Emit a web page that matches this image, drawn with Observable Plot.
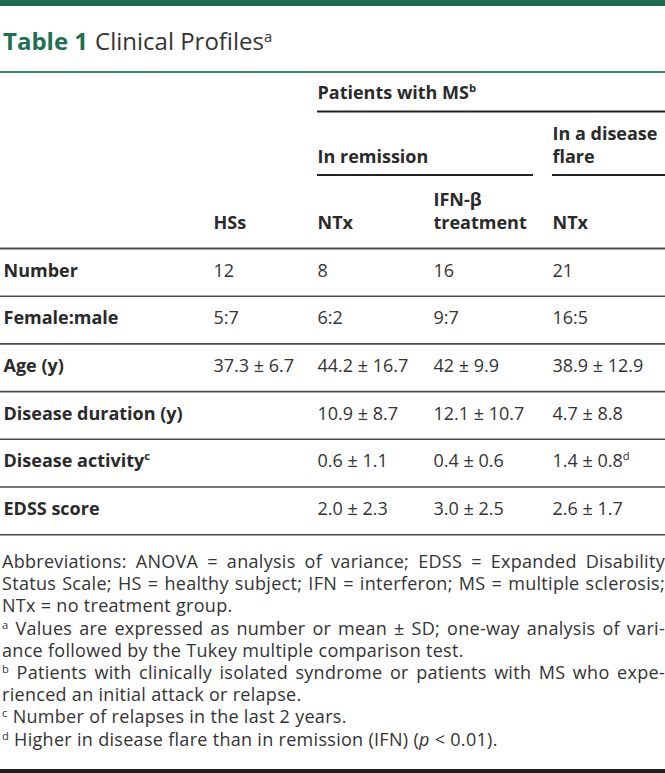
<!DOCTYPE html>
<html>
<head>
<meta charset="utf-8">
<script src="https://cdn.jsdelivr.net/npm/d3@7"></script>
<script src="https://cdn.jsdelivr.net/npm/@observablehq/plot@0.6"></script>
<style>
  html, body { margin: 0; padding: 0; background: #fff; }
  #wrap { position: relative; width: 665px; height: 773px; overflow: hidden; font-family: 'Open Sans', sans-serif; }
  #topbar { position: absolute; top: 0; left: 0; width: 665px; height: 6px; background: #1c6b4e; }
  #title { position: absolute; top: 29px; left: 3px; font-size: 24px; line-height: 24px; white-space: nowrap; color: #333; }
  #title .lab { font-weight: 700; color: #1f7050; margin-right: 7px; }
  #title sup, #notes sup { font-size: 0.62em; line-height: 0; vertical-align: 0.55em; }
  #chart { position: absolute; top: 60px; left: 0; }
  #notes { position: absolute; top: 550px; left: 2px; width: 663px; font-size: 18px; letter-spacing: 0.3px; line-height: 22.2px; color: #333; }
  #notes .ln { height: 22.2px; }
  #notes .j { text-align: justify; text-align-last: justify; }
  #bottombar { position: absolute; top: 769px; left: 0; width: 665px; height: 4px; background: #1e1e1e; }
</style>
</head>
<body>
<div id="wrap">
  <div id="topbar"></div>
  <div id="title"></div>
  <div id="chart"></div>
  <div id="notes"></div>
  <div id="bottombar"></div>
</div>
<script>
// ---------- data ----------
const tableLabel = "Table 1";
const tableTitle = "Clinical Profiles";
const tableTitleNote = "a";

const groupLabel = "Patients with MS";
const groupNote = "b";
const subgroupLabels = ["In remission", "In a disease\nflare"];
const columnLabels = ["HSs", "NTx", "IFN-β\ntreatment", "NTx"];

const rowLabels = ["Number", "Female:male", "Age (y)", "Disease duration (y)", "Disease activity", "EDSS score"];
const rowNotes = ["", "", "", "", "c", ""];

const hsValues = ["12", "5:7", "37.3 ± 6.7", "", "", ""];
const ntxRemissionValues = ["8", "6:2", "44.2 ± 16.7", "10.9 ± 8.7", "0.6 ± 1.1", "2.0 ± 2.3"];
const ifnRemissionValues = ["16", "9:7", "42 ± 9.9", "12.1 ± 10.7", "0.4 ± 0.6", "3.0 ± 2.5"];
const ntxFlareValues = ["21", "16:5", "38.9 ± 12.9", "4.7 ± 8.8", "1.4 ± 0.8", "2.6 ± 1.7"];
const ntxFlareNotes = ["", "", "", "", "d", ""];

const footnoteLines = [
  "Abbreviations: ANOVA = analysis of variance; EDSS = Expanded Disability",
  "Status Scale; HS = healthy subject; IFN = interferon; MS = multiple sclerosis;",
  "NTx = no treatment group.",
  "^a Values are expressed as number or mean ± SD; one-way analysis of vari-",
  "ance followed by the Tukey multiple comparison test.",
  "^b Patients with clinically isolated syndrome or patients with MS who expe-",
  "rienced an initial attack or relapse.",
  "^c Number of relapses in the last 2 years.",
  "^d Higher in disease flare than in remission (IFN) (*p* < 0.01)."
];

// ---------- layout (positions / styles, kept apart from the data) ----------
const L = {
  width: 665, top: 60, bottom: 545,
  colX: [3, 213, 317, 433, 552],          // label column, HSs, NTx, IFN-β, flare NTx
  subgroupStartCol: [2, 4], subgroupEnd: [533, 665],
  titleRule: 71.5,
  groupBaseline: 98, groupRule: 111,
  subBaseline: 162, subRule: 174.5,
  colBaseline: 228, headRule: 248,
  rowH: 47.7, rowBaselineOffset: 28,
  fontSize: 18, lineHeight: 22.2 / 18,
  justified: [true, true, false, true, false, true, false, false, false]
};
const withNote = (t, n) => n ? t + "^" + n : t;
const rowBaseline = i => L.headRule + L.rowBaselineOffset + i * L.rowH;

// ---------- title & footnotes (HTML caption) ----------
document.getElementById("title").innerHTML =
  `<span class="lab">${tableLabel}</span>${tableTitle}<sup>${tableTitleNote}</sup>`;

const esc = s => s.replace(/&/g, "&amp;").replace(/</g, "&lt;");
d3.select("#notes").selectAll("div").data(footnoteLines).join("div")
  .attr("class", (d, i) => "ln" + (L.justified[i] ? " j" : ""))
  .html(d => esc(d).replace(/^\^(\w) /, "<sup>$1</sup> ").replace(/\*(.+?)\*/g, "<i>$1</i>"));

// ---------- table body (Plot) ----------
const valueColumns = [hsValues, ntxRemissionValues, ifnRemissionValues, ntxFlareValues];
const valueNotes = [null, null, null, ntxFlareNotes];
const cells = [];
valueColumns.forEach((vals, c) => vals.forEach((v, r) => {
  if (v !== "") cells.push({col: c + 1, row: r, text: withNote(v, valueNotes[c] ? valueNotes[c][r] : "")});
}));
const labels = rowLabels.map((t, i) => ({row: i, text: withNote(t, rowNotes[i])}));
const colHeads = columnLabels.map((t, i) => ({col: i + 1, text: t}));
const subHeads = subgroupLabels.map((t, i) => ({col: L.subgroupStartCol[i], end: L.subgroupEnd[i], text: t}));
const groupHead = [{col: 2, text: withNote(groupLabel, groupNote)}];
const bodyRules = rowLabels.map((t, i) => ({y: L.headRule + (i + 1) * L.rowH}));

const font = "'Open Sans', sans-serif";
const common = {textAnchor: "start", lineAnchor: "bottom", fontSize: L.fontSize, fontFamily: font, lineHeight: L.lineHeight};

const plot = Plot.plot({
  width: L.width,
  height: L.bottom - L.top,
  margin: 0,
  x: {domain: [0, L.width], range: [0, L.width], axis: null},
  y: {domain: [L.top, L.bottom], range: [0, L.bottom - L.top], axis: null},
  style: {fontFamily: font, background: "white", overflow: "visible"},
  marks: [
    // rules
    Plot.ruleY([L.titleRule], {x1: 0, x2: L.width, stroke: "#3a8466", strokeWidth: 2}),
    Plot.ruleY(groupHead, {y: () => L.groupRule, x1: d => L.colX[d.col], x2: () => L.width, stroke: "#222", strokeWidth: 2}),
    Plot.ruleY(subHeads, {y: () => L.subRule, x1: d => L.colX[d.col], x2: d => d.end, stroke: "#222", strokeWidth: 2}),
    Plot.ruleY([L.headRule], {x1: 0, x2: L.width, stroke: "#4a4a4a", strokeWidth: 2}),
    Plot.ruleY(bodyRules, {y: "y", x1: 0, x2: L.width, stroke: "#4a4a4a", strokeWidth: 1.6}),
    // header texts
    Plot.text(groupHead, {...common, x: d => L.colX[d.col], y: () => L.groupBaseline, text: "text", fontWeight: 700, fill: "#2a2a2a"}),
    Plot.text(subHeads, {...common, x: d => L.colX[d.col], y: () => L.subBaseline, text: "text", fontWeight: 700, fill: "#2a2a2a"}),
    Plot.text(colHeads, {...common, x: d => L.colX[d.col], y: () => L.colBaseline, text: "text", fontWeight: 700, fill: "#2a2a2a"}),
    // body
    Plot.text(labels, {...common, x: () => L.colX[0], y: d => rowBaseline(d.row), text: "text", fontWeight: 700, fill: "#2a2a2a"}),
    Plot.text(cells, {...common, x: d => L.colX[d.col], y: d => rowBaseline(d.row), text: "text", fill: "#333"})
  ]
});

// superscripts: "text^x" -> text + raised small x
d3.select(plot).selectAll("text").each(function () {
  const spans = this.querySelectorAll("tspan");
  const targets = spans.length ? Array.from(spans) : [this];
  for (const el of targets) {
    const s = el.textContent;
    const k = s.indexOf("^");
    if (k < 0) continue;
    el.textContent = s.slice(0, k);
    const t = document.createElementNS("http://www.w3.org/2000/svg", "tspan");
    t.setAttribute("font-size", "0.62em");
    t.setAttribute("dy", "-0.62em");
    t.textContent = s.slice(k + 1);
    el.appendChild(t);
  }
});

document.getElementById("chart").appendChild(plot);
</script>
</body>
</html>
